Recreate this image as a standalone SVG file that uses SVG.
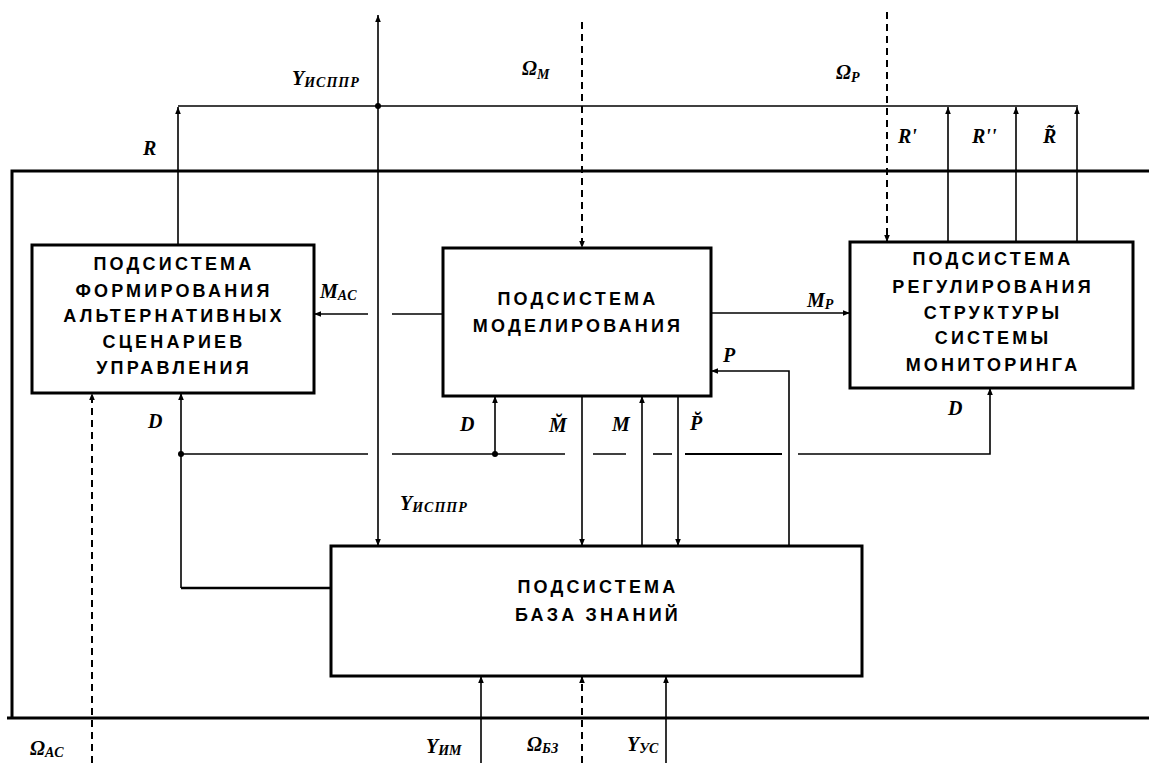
<svg xmlns="http://www.w3.org/2000/svg" width="1149" height="763" viewBox="0 0 1149 763">
<style>
.box{fill:#fff;stroke:#000;stroke-width:3}
.frame{fill:none;stroke:#000;stroke-width:3}
.ln{fill:none;stroke:#000;stroke-width:1.6}
.dash{fill:none;stroke:#000;stroke-width:2;stroke-dasharray:7 5}
.bt{font-family:"Liberation Sans",Arial,sans-serif;font-weight:bold;font-size:18px;letter-spacing:3.2px;text-anchor:middle;fill:#000}
.lb{font-family:"Liberation Serif","Times New Roman",serif;font-weight:bold;font-style:italic;font-size:20px;fill:#000}
.sub{font-size:14px}
</style>
<defs>
<marker id="ah" viewBox="0 0 10 10" refX="10" refY="5" markerWidth="7" markerHeight="7" markerUnits="userSpaceOnUse" orient="auto"><path d="M0,1 L10,5 L0,9 z" fill="#000"/></marker>
</defs>
<rect width="1149" height="763" fill="#fff"/>
<g id="frame">
<path class="frame" d="M1149,171 H12 V718"/>
<line class="frame" x1="7" y1="718" x2="1149" y2="718"/>
</g>
<g id="connectors">
<line class="ln" x1="178" y1="106" x2="1078" y2="106"/>
<line class="ln" x1="378" y1="106" x2="378" y2="15" marker-end="url(#ah)"/>
<line class="ln" x1="378" y1="106" x2="378" y2="546" marker-end="url(#ah)"/>
<circle cx="378" cy="106" r="3" fill="#000"/>
<line class="ln" x1="178" y1="245" x2="178" y2="107" marker-end="url(#ah)"/>
<line class="ln" x1="948" y1="242" x2="948" y2="107" marker-end="url(#ah)"/>
<line class="ln" x1="1016" y1="242" x2="1016" y2="107" marker-end="url(#ah)"/>
<line class="ln" x1="1077" y1="242" x2="1077" y2="107" marker-end="url(#ah)"/>
<line class="dash" x1="582" y1="22" x2="582" y2="248" marker-end="url(#ah)"/>
<line class="dash" x1="887" y1="12" x2="887" y2="242" marker-end="url(#ah)"/>
<line class="ln" x1="443" y1="314" x2="392" y2="314"/>
<line class="ln" x1="368" y1="314" x2="314" y2="314" marker-end="url(#ah)"/>
<line class="ln" x1="711" y1="313" x2="850" y2="313" marker-end="url(#ah)"/>
<path class="ln" d="M789,546 V371 H711" marker-end="url(#ah)"/>
<line class="ln" x1="181" y1="588" x2="181" y2="393" marker-end="url(#ah)"/>
<line class="ln" x1="181" y1="588" x2="331" y2="588" style="stroke-width:2.4"/>
<line class="ln" x1="181" y1="454" x2="368" y2="454"/>
<line class="ln" x1="392" y1="454" x2="565" y2="454"/>
<line class="ln" x1="593" y1="454" x2="626" y2="454"/>
<line class="ln" x1="653" y1="454" x2="672" y2="454"/>
<line class="ln" x1="685" y1="454" x2="782" y2="454" style="stroke-width:2.2"/>
<path class="ln" d="M798,454 H990 V388" marker-end="url(#ah)"/>
<circle cx="181" cy="454" r="3" fill="#000"/>
<line class="ln" x1="495" y1="454" x2="495" y2="396" marker-end="url(#ah)"/>
<circle cx="495" cy="454" r="3" fill="#000"/>
<line class="ln" x1="582" y1="396" x2="582" y2="546" marker-end="url(#ah)"/>
<line class="ln" x1="642" y1="546" x2="642" y2="396" marker-end="url(#ah)"/>
<line class="ln" x1="678" y1="396" x2="678" y2="546" marker-end="url(#ah)"/>
<line class="dash" x1="92" y1="763" x2="92" y2="393" marker-end="url(#ah)"/>
<line class="ln" x1="481" y1="763" x2="481" y2="676" marker-end="url(#ah)"/>
<line class="dash" x1="582" y1="763" x2="582" y2="676" marker-end="url(#ah)"/>
<line class="ln" x1="666" y1="763" x2="666" y2="676" marker-end="url(#ah)"/>
</g>
<g id="node-scenarios">
<rect class="box" x="32" y="245" width="282" height="148"/>
<text class="bt" x="174" y="270">ПОДСИСТЕМА</text>
<text class="bt" x="174" y="297">ФОРМИРОВАНИЯ</text>
<text class="bt" x="174" y="322">АЛЬТЕРНАТИВНЫХ</text>
<text class="bt" x="174" y="348">СЦЕНАРИЕВ</text>
<text class="bt" x="174" y="374">УПРАВЛЕНИЯ</text>
</g>
<g id="node-modeling">
<rect class="box" x="443" y="248" width="268" height="148"/>
<text class="bt" x="578" y="305">ПОДСИСТЕМА</text>
<text class="bt" x="578" y="332">МОДЕЛИРОВАНИЯ</text>
</g>
<g id="node-regulation">
<rect class="box" x="850" y="242" width="283" height="146"/>
<text class="bt" x="993" y="265">ПОДСИСТЕМА</text>
<text class="bt" x="993" y="293">РЕГУЛИРОВАНИЯ</text>
<text class="bt" x="993" y="319">СТРУКТУРЫ</text>
<text class="bt" x="993" y="344">СИСТЕМЫ</text>
<text class="bt" x="993" y="371">МОНИТОРИНГА</text>
</g>
<g id="node-knowledge">
<rect class="box" x="331" y="546" width="531" height="130"/>
<text class="bt" x="598" y="593">ПОДСИСТЕМА</text>
<text class="bt" x="598" y="621">БАЗА ЗНАНИЙ</text>
</g>
<g id="labels">
<text class="lb" x="292" y="85">Y<tspan class="sub" dy="2" letter-spacing="1">ИСППР</tspan></text>
<text class="lb" x="522" y="75" font-weight="normal" font-size="19">Ω<tspan class="sub" dy="4">М</tspan></text>
<text class="lb" x="836" y="79" font-weight="normal" font-size="19">Ω<tspan class="sub" dy="3">Р</tspan></text>
<text class="lb" x="143" y="155">R</text>
<text class="lb" x="898" y="143">R'</text>
<text class="lb" x="972" y="143">R''</text>
<text class="lb" x="1043" y="143">R&#x303;</text>
<text class="lb" x="320" y="298" font-size="18">M<tspan class="sub" dy="2">AC</tspan></text>
<text class="lb" x="807" y="307" font-size="18">M<tspan class="sub" dy="2">P</tspan></text>
<text class="lb" x="148" y="428">D</text>
<text class="lb" x="460" y="431">D</text>
<text class="lb" x="549" y="432" font-size="19">M&#x306;</text>
<text class="lb" x="612" y="431" font-size="19">M</text>
<text class="lb" x="690" y="430" font-size="18">P&#x306;</text>
<text class="lb" x="723" y="362" font-size="18">P</text>
<text class="lb" x="948" y="415">D</text>
<text class="lb" x="400" y="510">Y<tspan class="sub" dy="2" letter-spacing="1">ИСППР</tspan></text>
<text class="lb" x="30" y="755" font-style="normal">Ω<tspan class="sub" dy="2" font-style="italic">AC</tspan></text>
<text class="lb" x="426" y="753">Y<tspan class="sub" dy="2">ИМ</tspan></text>
<text class="lb" x="527" y="751" font-style="normal">Ω<tspan class="sub" dy="2" font-style="italic">БЗ</tspan></text>
<text class="lb" x="627" y="751">Y<tspan class="sub" dy="2">УС</tspan></text>
</g>
</svg>
